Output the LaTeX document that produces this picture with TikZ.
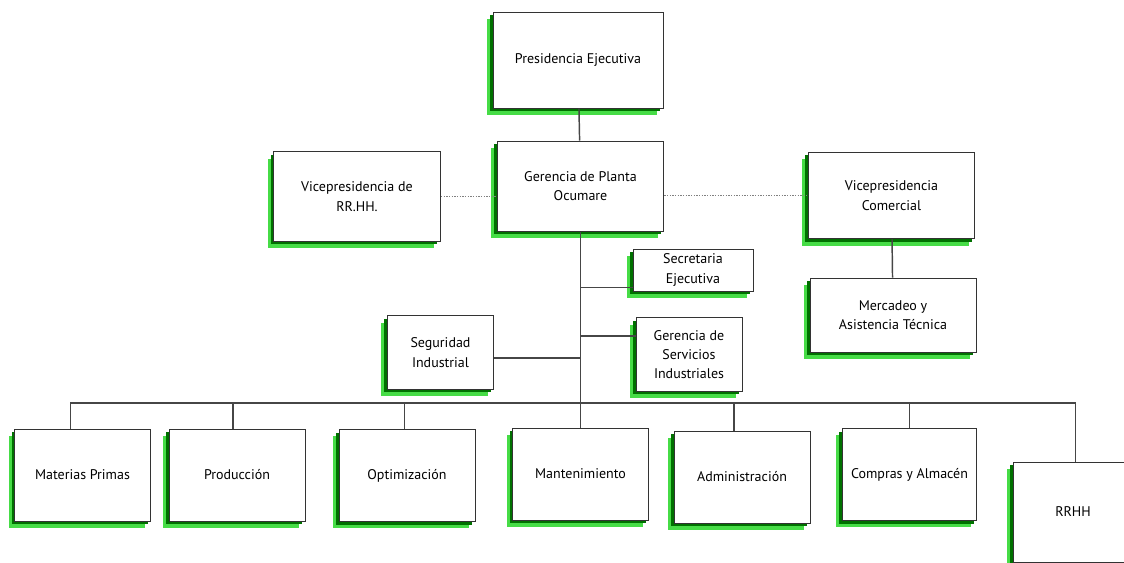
\documentclass[tikz,border=0pt]{standalone}
\usepackage{fontspec}
\setmainfont{PT Sans}
\usepackage{tikz}
\usetikzlibrary{shadows}
\definecolor{shdark}{RGB}{0,112,0}
\definecolor{shlight}{RGB}{70,220,70}
\definecolor{linkgray}{RGB}{70,70,70}
\tikzset{
  unitbox/.style={draw=black!80, line width=0.75pt, fill=white, inner sep=2pt,
    align=center, font=\fontsize{10.5}{14.5}\selectfont,
    general shadow={fill=shlight, shadow xshift=-4.5pt, shadow yshift=-5pt},
    general shadow={fill=shdark, shadow xshift=-2.2pt, shadow yshift=-2.4pt}},
  link/.style={draw=linkgray, line width=1.1pt},
  dotlink/.style={draw=gray, line width=1pt, densely dotted}
}

\begin{document}
\begin{tikzpicture}[x=0.75pt, y=-0.75pt]

  \useasboundingbox (0,0) rectangle (1124,562);

  \newcommand\BusY{403};

  % direccion
  \node[unitbox, minimum width=127.5pt, minimum height=72pt] (pres) at (578,60)
    {Presidencia Ejecutiva};
  \node[unitbox, minimum width=125pt, minimum height=67.5pt] (gpo) at (580.5,186)
    {Gerencia de Planta\\Ocumare};
  \node[unitbox, minimum width=125pt, minimum height=67pt] (vprh) at (357,196.5)
    {Vicepresidencia de\\RR.HH.};
  \node[unitbox, minimum width=125pt, minimum height=65pt] (vpcom) at (891.5,195.5)
    {Vicepresidencia\\Comercial};
  \node[unitbox, minimum width=124.5pt, minimum height=55.5pt] (merc) at (893,315)
    {Mercadeo y\\Asistencia Técnica};

  % staff
  \node[unitbox, minimum width=90pt, minimum height=31.5pt] (secr) at (693,270)
    {Secretaria\\Ejecutiva};
  \node[unitbox, minimum width=79.5pt, minimum height=55pt] (gsi) at (689,354.5)
    {Gerencia de\\Servicios\\Industriales};
  \node[unitbox, minimum width=80pt, minimum height=55pt] (segi) at (440.5,352.5)
    {Seguridad\\Industrial};

  % gerencias de linea
  \node[unitbox, minimum width=102pt, minimum height=69pt] (matp) at (82.5,475)
    {Materias Primas};
  \node[unitbox, minimum width=102pt, minimum height=69pt] (prod) at (237,475)
    {Producción};
  \node[unitbox, minimum width=102pt, minimum height=69pt] (optim) at (407,475.5)
    {Optimización};
  \node[unitbox, minimum width=102pt, minimum height=69pt] (mant) at (580.5,474)
    {Mantenimiento};
  \node[unitbox, minimum width=102pt, minimum height=69pt] (admin) at (742,477)
    {Administración};
  \node[unitbox, minimum width=101pt, minimum height=69pt] (compras) at (909.5,474.5)
    {Compras y Almacén};
  \node[unitbox, minimum width=90pt, minimum height=75pt] (rrhh) at (1073,512)
    {RRHH};

  % puntos de llegada
  \coordinate (dmatp) at ([xshift=-9pt]matp.north);
  \coordinate (dprod) at ([xshift=-3pt]prod.north);
  \coordinate (doptim) at ([xshift=-2pt]optim.north);
  \coordinate (dadmin) at ([xshift=-6pt]admin.north);
  \coordinate (drrhh) at ([xshift=2pt]rrhh.north);
  \coordinate (dsecr) at ([yshift=3pt]secr.south west);
  \coordinate (dgsi) at ([yshift=-14pt]gsi.north west);
  \coordinate (dsegi) at ([yshift=-4pt]segi.east);

  % conexiones
  \draw[link] (pres) -- (gpo);
  \draw[link] (gpo) -- (mant);
  \draw[link] (vpcom) -- (merc);
  \draw[dotlink] (vprh) -- (vprh -| gpo.west);
  \draw[dotlink] (gpo.east |- vpcom) -- (vpcom);

  \draw[link] (dsecr) -- (dsecr -| gpo.south);
  \draw[link] (dgsi) -- (dgsi -| gpo.south);
  \draw[link] (dsegi) -- (dsegi -| gpo.south);

  \coordinate (busL) at (dmatp |- 0,\BusY);
  \draw[link] (dmatp) -- (busL) -- (busL -| drrhh) -- (drrhh);
  \draw[link] (busL -| dprod) -- (dprod);
  \draw[link] (busL -| doptim) -- (doptim);
  \draw[link] (busL -| dadmin) -- (dadmin);
  \draw[link] (busL -| compras.north) -- (compras.north);

\end{tikzpicture}
\end{document}
